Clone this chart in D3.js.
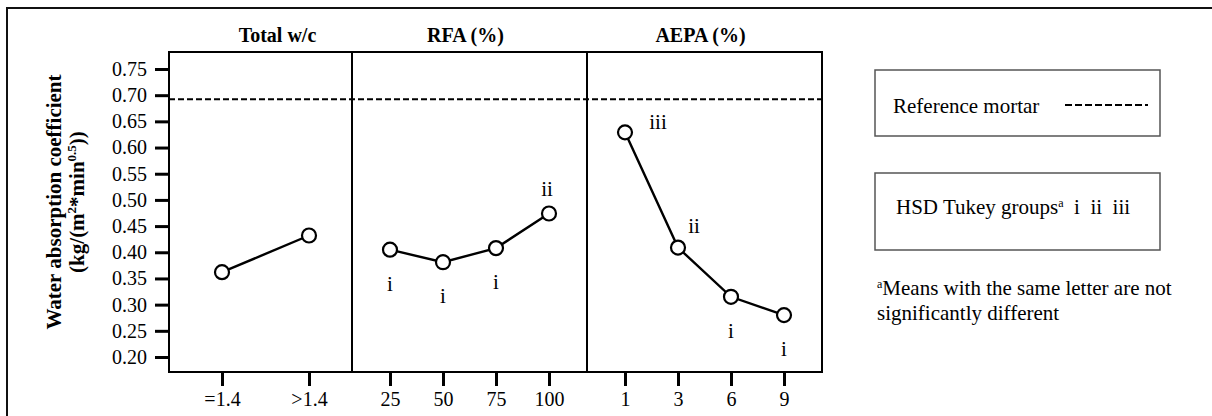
<!DOCTYPE html>
<html>
<head>
<meta charset="utf-8">
<script src="https://cdn.jsdelivr.net/npm/d3@7"></script>
<style>
body{margin:0;background:#fff;}
svg{display:block;font-family:"Liberation Serif","Times New Roman",serif;}
</style>
</head>
<body>
<div id="chart"></div>
<script>
// data
var panelTitles = ["Total w/c", "RFA (%)", "AEPA (%)"];
var wcLevels = ["=1.4", ">1.4"];
var wcValues = [0.362, 0.432];
var rfaLevels = ["25", "50", "75", "100"];
var rfaValues = [0.405, 0.381, 0.408, 0.474];
var rfaGroups = ["i", "i", "i", "ii"];
var rfaGroupSide = ["below", "below", "below", "above"];
var aepaLevels = ["1", "3", "6", "9"];
var aepaValues = [0.629, 0.409, 0.315, 0.280];
var aepaGroups = ["iii", "ii", "i", "i"];
var aepaGroupSide = ["right", "upright", "below", "below"];
var yTicks = [0.20, 0.25, 0.30, 0.35, 0.40, 0.45, 0.50, 0.55, 0.60, 0.65, 0.70, 0.75];
var referenceMortar = 0.692;

(function(){
	var width = 1212, height = 416;
	var top = 52, bottom = 372;

	var svg = d3.select("#chart").append("svg")
		.attr("width", width)
		.attr("height", height);

	// outer frame of the figure (runs off the right / bottom edge)
	svg.append("rect")
		.attr("x", 7).attr("y", 8)
		.attr("width", 1230).attr("height", 430)
		.attr("fill", "none").attr("stroke", "#111").attr("stroke-width", 2);

	var y = d3.scaleLinear().domain([0.20, 0.75]).range([357, 69]);

	var panels = [
		{x0: 169, x1: 352, pl: 53, pr: 43, tdx: 17, levels: wcLevels, values: wcValues, groups: null, side: null},
		{x0: 352, x1: 587, pl: 38, pr: 38, tdx: -4, levels: rfaLevels, values: rfaValues, groups: rfaGroups, side: rfaGroupSide},
		{x0: 587, x1: 822, pl: 38, pr: 38, tdx: -4, levels: aepaLevels, values: aepaValues, groups: aepaGroups, side: aepaGroupSide}
	];

	var offsets = {below: [0, 34], above: [-2, -25], right: [33, -10], upright: [16, -22]};

	// y axis
	var yAxis = svg.append("g")
		.attr("transform", "translate(169,0)")
		.call(d3.axisLeft(y).tickValues(yTicks).tickFormat(d3.format(".2f")).tickSize(14).tickPadding(8));
	yAxis.select(".domain").remove();
	yAxis.selectAll("line").attr("stroke", "#000").attr("stroke-width", 3);
	yAxis.selectAll("text").attr("font-size", 20).attr("fill", "#000").attr("font-family", "Liberation Serif");

	// y title
	var yt = svg.append("text")
		.attr("transform", "translate(0,202) rotate(-90)")
		.attr("text-anchor", "middle")
		.attr("font-weight", "bold")
		.attr("font-size", 21);
	yt.append("tspan").attr("x", 0).attr("y", 61).text("Water absorption coefficient");
	var l2 = yt.append("tspan").attr("x", 0).attr("y", 84);
	l2.text("(kg/(m");
	yt.append("tspan").attr("font-size", 13).attr("dy", -8).text("2");
	yt.append("tspan").attr("dy", 8).text("*min");
	yt.append("tspan").attr("font-size", 13).attr("dy", -8).text("0.5");
	yt.append("tspan").attr("dy", 8).text("))");

	panels.forEach(function(p, k){
		var x = d3.scalePoint().domain(p.levels).range([p.x0 + p.pl, p.x1 - p.pr]);
		var pts = p.levels.map(function(l, i){ return {level: l, value: p.values[i], group: p.groups ? p.groups[i] : null, side: p.side ? p.side[i] : null}; });

		svg.append("rect")
			.attr("x", p.x0).attr("y", top)
			.attr("width", p.x1 - p.x0).attr("height", bottom - top)
			.attr("fill", "none").attr("stroke", "#000").attr("stroke-width", 2);

		svg.append("text")
			.attr("x", (p.x0 + p.x1) / 2 + p.tdx).attr("y", 42)
			.attr("text-anchor", "middle")
			.attr("font-weight", "bold").attr("font-size", 20)
			.text(panelTitles[k]);

		var xAxis = svg.append("g")
			.attr("transform", "translate(0," + bottom + ")")
			.call(d3.axisBottom(x).tickSize(14).tickPadding(6));
		xAxis.select(".domain").remove();
		xAxis.selectAll("line").attr("stroke", "#000").attr("stroke-width", 3);
		xAxis.selectAll("text").attr("font-size", 20).attr("fill", "#000").attr("font-family", "Liberation Serif");

		svg.append("path")
			.datum(pts)
			.attr("fill", "none").attr("stroke", "#000").attr("stroke-width", 2.4)
			.attr("d", d3.line().x(function(d){ return x(d.level); }).y(function(d){ return y(d.value); }));

		svg.selectAll(".pt" + k)
			.data(pts)
			.enter().append("circle")
			.attr("class", "pt" + k)
			.attr("cx", function(d){ return x(d.level); })
			.attr("cy", function(d){ return y(d.value); })
			.attr("r", 7)
			.attr("fill", "#fff").attr("stroke", "#000").attr("stroke-width", 2.2);

		if (p.groups) {
			svg.selectAll(".grp" + k)
				.data(pts)
				.enter().append("text")
				.attr("class", "grp" + k)
				.attr("x", function(d){ return x(d.level) + offsets[d.side][0]; })
				.attr("y", function(d){ return y(d.value) + offsets[d.side][1]; })
				.attr("text-anchor", "middle")
				.attr("dominant-baseline", "central")
				.attr("font-size", 21)
				.text(function(d){ return d.group; });
		}
	});

	// reference mortar line across all panels
	svg.append("line")
		.attr("x1", 169).attr("x2", 822)
		.attr("y1", y(referenceMortar)).attr("y2", y(referenceMortar))
		.attr("stroke", "#000").attr("stroke-width", 2).attr("stroke-dasharray", "6,3");

	// legend
	svg.append("rect")
		.attr("x", 875).attr("y", 70).attr("width", 285).attr("height", 66)
		.attr("fill", "none").attr("stroke", "#555").attr("stroke-width", 1.5);
	svg.append("text")
		.attr("x", 893).attr("y", 113).attr("font-size", 21)
		.text("Reference mortar");
	svg.append("line")
		.attr("x1", 1065).attr("x2", 1148).attr("y1", 105).attr("y2", 105)
		.attr("stroke", "#000").attr("stroke-width", 2).attr("stroke-dasharray", "7,3");

	svg.append("rect")
		.attr("x", 875).attr("y", 173).attr("width", 285).attr("height", 77)
		.attr("fill", "none").attr("stroke", "#555").attr("stroke-width", 1.5);
	var hsd = svg.append("text")
		.attr("x", 896).attr("y", 214).attr("font-size", 21);
	hsd.append("tspan").text("HSD Tukey groups");
	hsd.append("tspan").attr("font-size", 12).attr("dy", -7).text("a");
	hsd.append("tspan").attr("dy", 7).text("\u00a0\u00a0i\u00a0\u00a0ii\u00a0\u00a0iii");

	var note = svg.append("text").attr("x", 877).attr("font-size", 21);
	note.append("tspan").attr("y", 295).attr("font-size", 12).attr("dy", -7).text("a");
	note.append("tspan").attr("dy", 7).text("Means with the same letter are not");
	note.append("tspan").attr("x", 877).attr("y", 320).text("significantly different");
})();
</script>
</body>
</html>
